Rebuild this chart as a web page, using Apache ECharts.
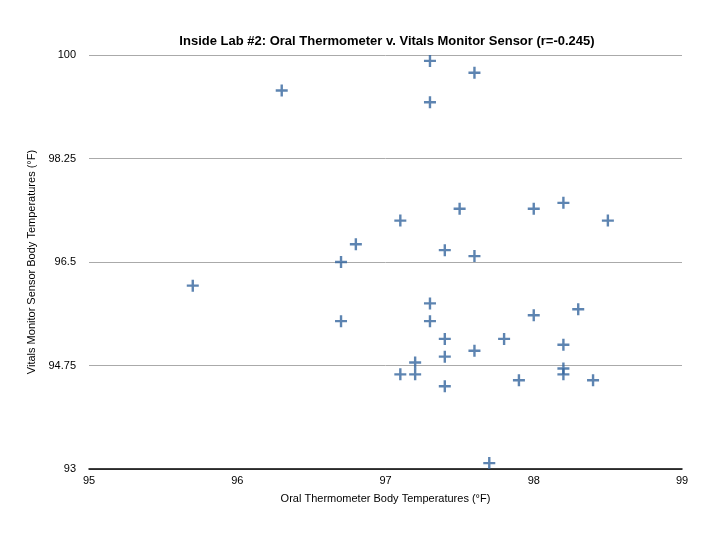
<!DOCTYPE html>
<html>
<head>
<meta charset="utf-8">
<script src="https://cdn.jsdelivr.net/npm/echarts@6/dist/echarts.min.js"></script>
<style>html,body{margin:0;padding:0;background:#fff}#c{width:723px;height:538px}</style>
</head>
<body>
<div id="c"></div>
<script>
const oralTemps = [96.3, 96.8, 96.7, 97.1, 97.3, 97.6, 97.3, 97.5, 98.0, 98.2, 98.5, 97.4, 97.6, 95.7, 96.7, 97.1, 97.3, 97.3, 97.4, 97.4, 97.2, 97.2, 97.4, 97.6, 97.8, 98.0, 98.3, 98.2, 98.2, 98.2, 97.9, 98.4, 97.7];
const sensorTemps = [99.4, 96.8, 96.5, 97.2, 99.9, 99.7, 99.2, 97.4, 97.4, 97.5, 97.2, 96.7, 96.6, 96.1, 95.5, 94.6, 95.8, 95.5, 95.2, 94.9, 94.8, 94.6, 94.4, 95.0, 95.2, 95.6, 95.7, 95.1, 94.7, 94.6, 94.5, 94.5, 93.1];
const yTicks = [93, 94.75, 96.5, 98.25, 100];
const xTicks = [95, 96, 97, 98, 99];

const points = oralTemps.map((x, i) => [x, sensorTemps[i]]);
const font = '"Liberation Sans", Arial, sans-serif';
const chart = echarts.init(document.getElementById('c'));
chart.setOption({
  animation: false,
  title: {
    text: 'Inside Lab #2: Oral Thermometer v. Vitals Monitor Sensor (r=-0.245)',
    left: 382, top: 30, textAlign: 'center',
    textStyle: { fontFamily: font, fontSize: 13, fontWeight: 'bold', color: '#000' }
  },
  grid: { left: 89, right: 41, top: 55, bottom: 69, containLabel: false },
  xAxis: {
    type: 'value', min: 95, max: 99, interval: 1,
    name: 'Oral Thermometer Body Temperatures (°F)',
    nameLocation: 'middle', nameGap: 24,
    nameTextStyle: { fontFamily: font, fontSize: 11, color: '#000' },
    axisLine: { show: true, lineStyle: { color: '#000', width: 1.5 } },
    axisTick: { show: false },
    splitLine: { show: false },
    axisLabel: { fontFamily: font, fontSize: 11, color: '#000', margin: 6 }
  },
  yAxis: {
    type: 'value', min: 93, max: 100,
    name: 'Vitals Monitor Sensor Body Temperatures (°F)',
    nameLocation: 'middle', nameGap: 42,
    nameTextStyle: { fontFamily: font, fontSize: 11, color: '#000' },
    axisLine: { show: false },
    axisTick: { show: false, customValues: yTicks },
    splitLine: { show: true, lineStyle: { color: '#aaaaaa', width: 1 } },
    axisLabel: { fontFamily: font, fontSize: 11, color: '#000', margin: 13, customValues: yTicks }
  },
  series: [{
    type: 'scatter',
    data: points,
    symbol: 'path://M4.8,0 h2.4 v4.8 h4.8 v2.4 h-4.8 v4.8 h-2.4 v-4.8 h-4.8 v-2.4 h4.8 z',
    symbolSize: 12,
    itemStyle: { color: '#35659e' }
  }]
});
</script>
</body>
</html>
